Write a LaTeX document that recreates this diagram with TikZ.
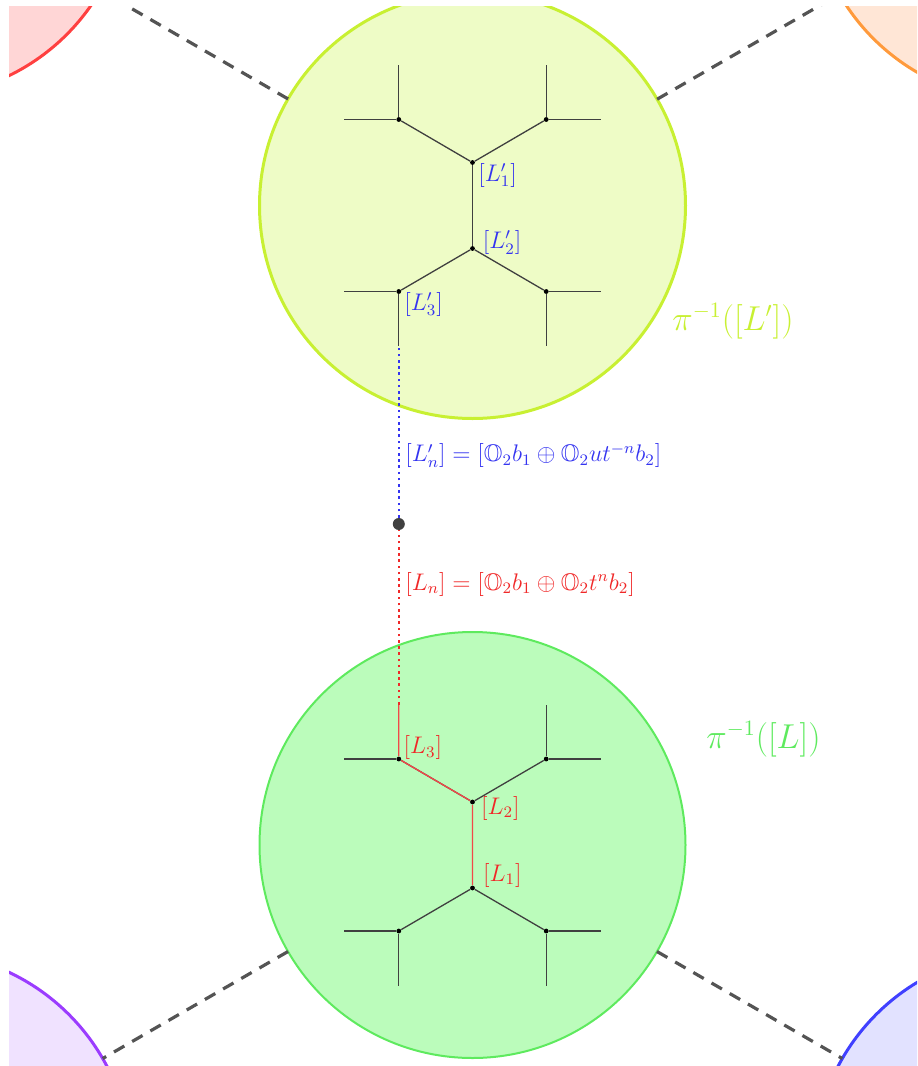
\documentclass[tikz,border=0pt]{standalone}
\usepackage{amsmath,amssymb}
\usepackage{xcolor}
\usepackage{tikz}
\usetikzlibrary{calc,positioning}
\definecolor{upc}{HTML}{C8F032}
\definecolor{upbg}{HTML}{EEFCC6}
\definecolor{dnc}{HTML}{5EEA5E}
\definecolor{dnbg}{HTML}{BBFCBB}
\definecolor{nwc}{HTML}{FF4040}
\definecolor{nwbg}{HTML}{FFD6D6}
\definecolor{nec}{HTML}{FF9A3C}
\definecolor{nebg}{HTML}{FFE6D6}
\definecolor{swc}{HTML}{9B3CFF}
\definecolor{swbg}{HTML}{F0E2FF}
\definecolor{sec}{HTML}{4040FF}
\definecolor{sebg}{HTML}{E2E2FF}
\definecolor{lblue}{HTML}{3434F0}
\definecolor{lred}{HTML}{F02828}
\definecolor{edgec}{HTML}{404040}
\definecolor{dashc}{HTML}{545454}
\tikzset{
  ball/.style={circle,minimum size=213pt,inner sep=0pt,outer sep=0pt},
  nbr/.style={ball,line width=1.5pt},
  link/.style={dashc,line width=1.6pt,dash pattern=on 6pt off 4.5pt},
  edge/.style={edgec,line width=0.65pt},
  vtx/.style={circle,fill=black,inner sep=0pt,minimum size=2.4pt},
  redpath/.style={lred!85!white,line width=0.65pt},
  dots/.style={line width=1.3pt,dash pattern=on 1.3pt off 1.8pt},
  lab/.style={font=\fontsize{11.5}{13}\selectfont,inner sep=1pt,anchor=west},
  frm/.style={font=\fontsize{12}{14}\selectfont,inner sep=1pt,anchor=west},
  big/.style={font=\fontsize{16}{19}\selectfont,inner sep=1pt,anchor=west}
}
\begin{document}
\begin{tikzpicture}[x=0.5pt,y=-0.5pt]
\useasboundingbox (0,0) rectangle (917,1066);
\clip (9,6) rectangle (917,1066);
% neighbouring classes
\node[nbr,draw=nwc,fill=nwbg] (nw) at (-84,-116) {};
\node[nbr,draw=nec,fill=nebg] (ne) at (1024,-112) {};
\node[nbr,draw=swc,fill=swbg] (sw) at (-81.8,1165) {};
\node[nbr,draw=sec,fill=sebg] (se) at (1026.8,1165) {};
\node[ball,draw=upc,fill=upbg,line width=1.5pt] (up) at (472.5,205.5) {};
\node[ball,draw=dnc,fill=dnbg,line width=1pt] (dn) at (472.5,845) {};
\draw[link] (up) -- (nw);
\draw[link] (up) -- (ne);
\draw[link] (dn) -- (sw);
\draw[link] (dn) -- (se);
% the two trees
\foreach \n/\cy in {u/205.5,d/845}{
  \node[vtx] (\n a) at (472.5,\cy-43) {};
  \node[vtx] (\n b) at (472.5,\cy+43) {};
  \node[vtx] (\n tl) at (398.8,\cy-86) {};
  \node[vtx] (\n tr) at (546.2,\cy-86) {};
  \node[vtx] (\n bl) at (398.8,\cy+86) {};
  \node[vtx] (\n br) at (546.2,\cy+86) {};
  \draw[edge] (\n tl) -- (\n a) -- (\n tr);
  \draw[edge] (\n a) -- (\n b);
  \draw[edge] (\n bl) -- (\n b) -- (\n br);
  \foreach \v/\dx/\dy in {tl/-1/-1,tr/1/-1,bl/-1/1,br/1/1}{
    \coordinate (\n\v h) at ($(\n\v)+(\dx*54.5,0)$);
    \coordinate (\n\v v) at ($(\n\v)+(0,\dy*54.5)$);
    \draw[edge] (\n\v h) -- (\n\v) -- (\n\v v);
  }
}
% path to the point
\node[circle,fill=black!75,minimum size=6pt,inner sep=0pt] (pt) at (398.8,524) {};
\draw[redpath] (db) -- (da) -- (dtl) -- (dtlv);
\draw[dots,lred] (dtlv) -- (pt);
\draw[dots,lblue] (pt) -- (ublv);
% labels
\node[lab,lblue] (lu1) at (476,175) {$[L_1']$};
\node[lab,lblue] (lu2) at (480.5,242.5) {$[L_2']$};
\node[lab,lblue] (lu3) at (402,304) {$[L_3']$};
\node[lab,lred] (ld3) at (401.3,747.5) {$[L_3]$};
\node[lab,lred] (ld2) at (478.7,808.3) {$[L_2]$};
\node[lab,lred] (ld1) at (480.7,875.3) {$[L_1]$};
\node[frm,lblue] (fu) at (403,455.8) {$[L_n']=[\mathbb{O}_2b_1\oplus\mathbb{O}_2ut^{-n}b_2]$};
\node[frm,lred] (fd) at (403,584.2) {$[L_n]=[\mathbb{O}_2b_1\oplus\mathbb{O}_2t^nb_2]$};
\node[big,upc] (pu) at (670,321) {$\pi^{-1}([L'])$};
\node[big,dnc] (pd) at (704,739) {$\pi^{-1}([L])$};
\end{tikzpicture}
\end{document}
